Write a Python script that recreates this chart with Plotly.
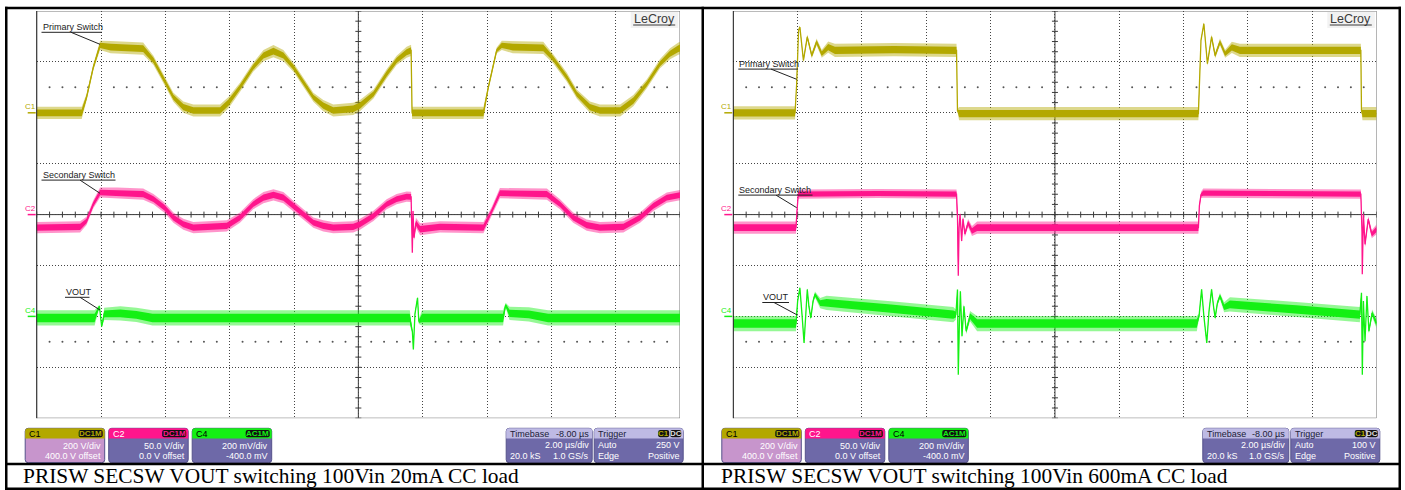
import numpy as np
import plotly.graph_objects as go

W, H = 1405, 490

# ---------------- channel settings (from the descriptor boxes) ----------------
C1_SCALE, C1_OFFSET = 200.0, 400.0      # V/div, V offset
C2_SCALE, C2_OFFSET = 50.0, 0.0         # V/div, V offset
C4_SCALE, C4_OFFSET = 200.0, -400.0     # mV/div, mV offset
T_MIN, T_MAX = -2.0, 18.0               # µs, 2 µs/div, trigger at t = 0

C1_COLOR = "#B3A800"
C2_COLOR = "#FF158C"
C4_COLOR = "#14F014"

# ---------------- 20 mA load capture ----------------
# t in µs, value in channel units, n = half height of the noise band
t_c1_a = [-2.00, -0.60, -0.45, -0.24, -0.03, 0.30, 1.31, 1.63, 1.97, 2.25, 2.56, 2.87, 3.70, 3.97,
          4.32, 4.73, 5.05, 5.36, 5.67, 5.98, 6.29, 6.60, 6.91, 7.22, 7.84, 8.05, 8.47, 8.88, 9.19,
          9.50, 9.64, 9.67, 11.89, 12.04, 12.30, 12.46, 12.80, 13.75, 14.06, 14.48, 14.79, 15.20,
          15.51, 16.14, 16.55, 16.97, 17.38, 17.69, 17.95, 18.00]
v_c1_a = [0, 0, 61, 179, 265, 258, 252, 206, 127, 61, 22, 9, 9, 41,
          100, 179, 225, 242, 225, 179, 120, 61, 28, 9, 15, 28, 74, 153, 206,
          238, 245, 0, 0, 100, 245, 265, 258, 255, 212, 140, 74, 22,
          9, 9, 48, 114, 193, 232, 252, 254]
n_c1_a = [24, 24, 14, 12, 18, 24, 24, 18, 18, 18, 22, 24, 24, 22,
          18, 18, 22, 24, 22, 18, 18, 18, 22, 24, 24, 22, 18, 18, 18,
          22, 22, 24, 24, 12, 12, 18, 24, 24, 18, 18, 18, 22,
          24, 24, 22, 18, 18, 22, 24, 24]

t_c2_a = [-2.00, -0.65, -0.45, -0.24, -0.03, 0.50, 1.31, 1.63, 1.97, 2.25, 2.56, 2.87, 3.91, 4.32,
          4.73, 5.05, 5.36, 5.67, 5.98, 6.29, 6.60, 6.91, 7.22, 7.84, 8.05, 8.47, 8.88, 9.19, 9.50,
          9.64, 9.668, 9.678, 9.70, 9.73, 9.79, 9.92, 10.54, 11.89, 12.15, 12.40, 13.86, 14.27, 14.68,
          15.10, 15.51, 16.24, 16.76, 17.17, 17.59, 18.00]
v_c2_a = [-12.8, -12.0, -6.2, 10.2, 21.7, 21.1, 20.1, 15.2, 6.9, -3.0, -9.5, -12.8, -11.1, -3.0,
          10.2, 16.7, 19.4, 16.7, 8.6, 0.4, -7.9, -11.1, -12.8, -12.1, -9.5, -1.3, 10.2, 15.2, 17.7,
          17.4, -12.8, -37.4, 3.6, -22.7, -8.2, -14.4, -12.1, -12.8, 3.6, 21.1, 20.1, 10.2, -3.0,
          -10.4, -12.8, -12.1, -3.0, 8.6, 16.7, 19.1]
n_c2_a = [5.5, 5.5, 4, 4, 5, 5.5, 5.5, 5, 5, 5, 5.5, 5.5, 5.5, 5,
          5, 5.5, 5.5, 5.5, 5, 5, 5, 5.5, 5.5, 5.5, 5.5, 5, 5, 5, 5,
          5, 1, 1, 2, 3, 5, 6, 5.5, 5.5, 4, 5, 5.5, 5, 5,
          5.5, 5.5, 5.5, 5, 5, 5, 5]

t_c4_a = [-2.00, -0.20, -0.05, 0.02, 0.10, 0.60, 1.10, 1.60, 9.60, 9.68, 9.71, 9.76, 9.84, 9.88,
          9.98, 12.50, 12.58, 12.70, 13.30, 13.90, 18.00]
v_c4_a = [-6, -6, 40, -39, 10, 12, 6, -6, -6, -60, -130, 10, 73, -20,
          -6, -6, 44, 12, 8, -6, -6]
n_c4_a = [30, 30, 6, 6, 24, 28, 28, 30, 30, 6, 4, 6, 4, 10,
          30, 30, 10, 26, 28, 30, 30]

# ---------------- 600 mA load capture ----------------
t_c1_b = [-2.00, -0.08, -0.03, 0.03, 0.07, 0.18, 0.30, 0.44, 0.59, 0.75, 0.95, 1.16, 3.00, 4.94,
          4.97, 5.02, 12.46, 12.49, 12.54, 12.63, 12.74, 12.87, 12.98, 13.13, 13.29, 13.50, 13.75,
          17.51, 17.53, 17.56, 18.00]
v_c1_b = [0, 0, 114, 324, 337, 206, 298, 225, 278, 232, 258, 245, 248, 245,
          9, -3, -3, 107, 285, 350, 193, 298, 225, 278, 232, 257, 245,
          245, 9, -3, -3]
n_c1_b = [26, 26, 4, 4, 6, 8, 10, 12, 14, 16, 22, 26, 26, 26,
          6, 26, 26, 4, 4, 6, 8, 10, 12, 14, 16, 22, 26,
          26, 6, 26, 26]

t_c2_b = [-2.00, -0.05, -0.02, 0.02, 2.50, 4.94, 4.97, 4.995, 5.02, 5.05, 5.10, 5.14, 5.20, 5.30,
          5.42, 5.58, 12.46, 12.49, 12.54, 12.61, 17.51, 17.545, 17.555, 17.59, 17.64, 17.74, 17.85, 18.00]
v_c2_b = [-12.8, -12.8, 3.6, 20.1, 20.7, 20.1, -1.3, -60.0, -12.8, 0.4, -25.9, -4.2, -19.0, -8.2,
          -16.1, -12.8, -12.8, 8.6, 19.4, 21.1, 20.1, -16.1, -58.7, 0.4, -29.2, -4.5, -19.3, -14.4]
n_c2_b = [6, 6, 2, 4.5, 4.5, 4.5, 1, 1, 1, 2, 2, 3, 3, 4,
          5, 6, 6, 2, 3, 4.5, 4.5, 1, 1, 2, 3, 3, 4, 5]

t_c4_b = [-2.00, -0.05, 0.00, 0.07, 0.14, 0.20, 0.26, 0.30, 0.35, 0.41, 0.48, 0.54, 0.70, 0.90,
          2.90, 4.84, 4.92, 4.97, 4.995, 5.03, 5.06, 5.11, 5.17, 5.24, 5.36, 5.58, 12.41, 12.48,
          12.56, 12.63, 12.72, 12.79, 12.87, 12.93, 12.98, 13.05, 13.13, 13.26, 13.44, 15.50, 17.48,
          17.53, 17.556, 17.59, 17.64, 17.70, 17.76, 17.86, 18.00]
v_c4_b = [-28, -28, 60, 112, 1, -104, 21, 106, 40, -6, 60, 86, 52, 53,
          30, 7, 7, 106, -229, -19, 99, -78, 40, -58, 1, -28, -28, 1,
          106, 1, -104, 21, 106, 40, -6, 52, 80, 36, 47, 27, 7,
          93, -229, 60, -98, 80, -58, 13, -28]
n_c4_b = [30, 30, 4, 4, 4, 4, 6, 6, 8, 8, 10, 12, 20, 28,
          30, 30, 20, 4, 4, 6, 6, 8, 10, 12, 20, 30, 30, 10,
          4, 4, 4, 6, 6, 8, 8, 10, 12, 20, 28, 30, 30,
          4, 4, 6, 6, 8, 10, 14, 20]

TRIGGER_LEVEL = [250.0, 100.0]   # V on C1
CAPTIONS = ["PRISW SECSW VOUT switching 100Vin 20mA CC load",
            "PRISW SECSW VOUT switching 100Vin 600mA CC load"]
CH_TEXT = [("C1", "DC1M", "200 V/div", "400.0 V offset"),
           ("C2", "DC1M", "50.0 V/div", "0.0 V offset"),
           ("C4", "AC1M", "200 mV/div", "-400.0 mV")]
TB_TEXT = ("Timebase", "-8.00 µs", "2.00 µs/div", "20.0 kS", "1.0 GS/s")
TRIG_MODE = ("Trigger", "Auto", "Edge", "Positive")

# ---------------- screen geometry (pixels) ----------------
GRID_LEFT = [36.7, 733.3]
GRID_W = 643.3
GRID_TOP, GRID_BOT = 11.0, 418.2
DIV_X = GRID_W / 10
DIV_Y = (GRID_BOT - GRID_TOP) / 8

SANS = "Liberation Sans, Arial, sans-serif"
SERIF = "Liberation Serif, Times New Roman, serif"

fig = go.Figure()


def px(x, y):
    return x / W, 1 - y / H


def rgba(hexcol, a):
    h = hexcol.lstrip("#")
    return f"rgba({int(h[0:2], 16)},{int(h[2:4], 16)},{int(h[4:6], 16)},{a})"


def to_div(v, off, sc):
    return (np.asarray(v, float) + off) / sc


def band(t, v, n, off, sc, color, p):
    xa, ya = ("x", "y") if p == 0 else ("x2", "y2")
    t = np.asarray(t, float)
    v = np.asarray(v, float)
    n = np.asarray(n, float)
    for k, a in ((1.0, 0.45), (0.55, 1.0)):
        up = to_div(v + k * n, off, sc)
        lo = to_div(v - k * n, off, sc)
        fig.add_trace(go.Scatter(
            x=np.concatenate([t, t[::-1]]), y=np.concatenate([up, lo[::-1]]),
            mode="lines", fill="toself", fillcolor=rgba(color, a),
            line=dict(width=0, color=rgba(color, a)),
            hoverinfo="skip", showlegend=False, xaxis=xa, yaxis=ya))
    fig.add_trace(go.Scatter(x=t, y=to_div(v, off, sc), mode="lines",
                             line=dict(color=color, width=1.3),
                             hoverinfo="skip", showlegend=False, xaxis=xa, yaxis=ya))


def text(x, y, s, size=9, color="#222", xanchor="left", family=SANS, yanchor="middle"):
    X, Y = px(x, y)
    fig.add_annotation(x=X, y=Y, xref="paper", yref="paper", text=s, showarrow=False,
                       xanchor=xanchor, yanchor=yanchor, borderpad=0,
                       font=dict(size=size, color=color, family=family))


def seg(x0, y0, x1, y1, color="#333", width=1):
    X0, Y0 = px(x0, y0)
    X1, Y1 = px(x1, y1)
    fig.add_shape(type="line", x0=X0, y0=Y0, x1=X1, y1=Y1, xref="paper", yref="paper",
                  line=dict(color=color, width=width), layer="above")


def rect(x0, y0, x1, y1, fill, line=None):
    X0, Y0 = px(x0, y0)
    X1, Y1 = px(x1, y1)
    fig.add_shape(type="rect", x0=X0, y0=Y0, x1=X1, y1=Y1, xref="paper", yref="paper",
                  fillcolor=fill, line=dict(width=1 if line else 0, color=line or fill),
                  layer="above")


def P(x, y):
    X, Y = px(x, y)
    return f"{X:.6f},{Y:.6f}"


def rrect(x0, y0, x1, y1, r, fill, line=None, top_only=False):
    if top_only:
        path = (f"M{P(x0, y1)} L{P(x0, y0 + r)} Q{P(x0, y0)} {P(x0 + r, y0)} "
                f"L{P(x1 - r, y0)} Q{P(x1, y0)} {P(x1, y0 + r)} L{P(x1, y1)} Z")
    else:
        path = (f"M{P(x0 + r, y0)} L{P(x1 - r, y0)} Q{P(x1, y0)} {P(x1, y0 + r)} "
                f"L{P(x1, y1 - r)} Q{P(x1, y1)} {P(x1 - r, y1)} L{P(x0 + r, y1)} "
                f"Q{P(x0, y1)} {P(x0, y1 - r)} L{P(x0, y0 + r)} Q{P(x0, y0)} {P(x0 + r, y0)} Z")
    fig.add_shape(type="path", path=path, xref="paper", yref="paper", fillcolor=fill,
                  line=dict(width=1 if line else 0, color=line or fill), layer="above")


# ---------------- axes (one graticule per capture) ----------------
for p, gl in enumerate(GRID_LEFT):
    sfx = "" if p == 0 else "2"
    xdom = [gl / W, (gl + GRID_W) / W]
    ydom = [1 - GRID_BOT / H, 1 - GRID_TOP / H]
    fig.update_layout(**{
        "xaxis" + sfx: dict(domain=xdom, range=[T_MIN, T_MAX], tick0=T_MIN, dtick=2,
                            showgrid=True, gridcolor="#444", gridwidth=1, griddash="1px,2px",
                            zeroline=False, showticklabels=False, ticks="", showline=False,
                            anchor="y" + sfx, fixedrange=True),
        "yaxis" + sfx: dict(domain=ydom, range=[-4, 4], tick0=-4, dtick=1,
                            showgrid=True, gridcolor="#444", gridwidth=1, griddash="1px,2px",
                            zeroline=False, showticklabels=False, ticks="", showline=False,
                            anchor="x" + sfx, fixedrange=True),
    })
    xa, ya = ("x", "y") if p == 0 else ("x2", "y2")
    tmid = (T_MIN + T_MAX) / 2
    # centre cross with minor ticks
    fig.add_shape(type="line", x0=tmid, x1=tmid, y0=-4, y1=4, xref=xa, yref=ya,
                  line=dict(color="#3a3a3a", width=1), layer="below")
    fig.add_shape(type="line", x0=T_MIN, x1=T_MAX, y0=0, y1=0, xref=xa, yref=ya,
                  line=dict(color="#3a3a3a", width=1), layer="below")
    hx = 3.0 * (T_MAX - T_MIN) / GRID_W
    hy = 3.0 * 8 / (GRID_BOT - GRID_TOP)
    tx, ty = [], []
    for tt in np.arange(T_MIN, T_MAX + 1e-6, 0.4):
        tx += [tt, tt, None]
        ty += [-hy, hy, None]
    for yy in np.arange(-4, 4 + 1e-6, 0.2):
        tx += [tmid - hx, tmid + hx, None]
        ty += [yy, yy, None]
    fig.add_trace(go.Scatter(x=tx, y=ty, mode="lines", line=dict(color="#3a3a3a", width=1),
                             hoverinfo="skip", showlegend=False, xaxis=xa, yaxis=ya))
    # sparse dot rows
    dx = [tt for tt in np.arange(T_MIN, T_MAX + 1e-6, 0.4) if abs((tt - T_MIN) / 2 - round((tt - T_MIN) / 2)) > 0.05]
    fig.add_trace(go.Scatter(x=dx + dx, y=[2.5] * len(dx) + [-2.5] * len(dx), mode="markers",
                             marker=dict(size=2, color="#555"), hoverinfo="skip",
                             showlegend=False, xaxis=xa, yaxis=ya))
    # graticule frame
    fig.add_shape(type="rect", x0=T_MIN, x1=T_MAX, y0=-4, y1=4, xref=xa, yref=ya,
                  line=dict(color="#777", width=1), layer="below")
    seg(gl, GRID_TOP, gl, GRID_BOT, "#222", 1)

# ---------------- waveforms ----------------
band(t_c1_a, v_c1_a, n_c1_a, C1_OFFSET, C1_SCALE, C1_COLOR, 0)
band(t_c2_a, v_c2_a, n_c2_a, C2_OFFSET, C2_SCALE, C2_COLOR, 0)
band(t_c4_a, v_c4_a, n_c4_a, C4_OFFSET, C4_SCALE, C4_COLOR, 0)
band(t_c1_b, v_c1_b, n_c1_b, C1_OFFSET, C1_SCALE, C1_COLOR, 1)
band(t_c2_b, v_c2_b, n_c2_b, C2_OFFSET, C2_SCALE, C2_COLOR, 1)
band(t_c4_b, v_c4_b, n_c4_b, C4_OFFSET, C4_SCALE, C4_COLOR, 1)

# ---------------- screen decorations ----------------
LABELS = [
    # (text, x, y, underline end, leader start x, leader end (x, y))
    [("Primary Switch", 41.5, 27.0, 102.0, 71.0, (100.0, 44.3)),
     ("Secondary Switch", 41.5, 174.8, 115.5, 80.0, (100.0, 193.3)),
     ("VOUT", 65.0, 292.0, 89.5, 80.0, (100.0, 310.0))],
    [("Primary Switch", 738.3, 63.8, 798.0, 771.0, (796.7, 79.3)),
     ("Secondary Switch", 738.3, 189.8, 812.5, 776.0, (796.7, 207.7)),
     ("VOUT", 762.3, 297.2, 789.0, 774.0, (797.3, 315.0))],
]

for p, gl in enumerate(GRID_LEFT):
    xa, ya = ("x", "y") if p == 0 else ("x2", "y2")
    for (s, x, y, xe, lx, (ex, ey)) in LABELS[p]:
        text(x, y, s, size=9, color="#1a1a1a")
        seg(x, y + 5.3, xe, y + 5.3, "#222", 1)
        seg(lx, y + 5.3, ex, ey, "#222", 1)

    # channel ground markers at the left edge
    for name, off, sc, col in (("C1", C1_OFFSET, C1_SCALE, C1_COLOR),
                               ("C2", C2_OFFSET, C2_SCALE, C2_COLOR),
                               ("C4", C4_OFFSET, C4_SCALE, C4_COLOR)):
        g = off / sc
        gy = GRID_TOP + (4 - g) * DIV_Y
        text(gl - 6.5, gy - 6, name, size=8, color=col, xanchor="center")
        seg(gl - 9, gy, gl - 1, gy, col, 1.5)

    # LeCroy badge
    rect(gl + 594, GRID_TOP + 1, gl + 641.5, GRID_TOP + 17, "#F2F2F2")
    text(gl + 617.5, GRID_TOP + 7.5, "LeCroy", size=12.5, color="#3a3a3a", xanchor="center")
    seg(gl + 596.5, GRID_TOP + 14, gl + 638.5, GRID_TOP + 14, "#3a3a3a", 1)

    # trigger level and trigger position markers
    trig_div = (TRIGGER_LEVEL[p] + C1_OFFSET) / C1_SCALE
    fig.add_trace(go.Scatter(x=[T_MAX + 4.0 * (T_MAX - T_MIN) / GRID_W], y=[trig_div],
                             mode="markers", marker=dict(symbol="triangle-left", size=7, color=C1_COLOR),
                             cliponaxis=False, hoverinfo="skip", showlegend=False, xaxis=xa, yaxis=ya))
    fig.add_trace(go.Scatter(x=[0.0], y=[-4 - 4.5 * 8 / (GRID_BOT - GRID_TOP)],
                             mode="markers", marker=dict(symbol="triangle-up", size=7, color=C1_COLOR),
                             cliponaxis=False, hoverinfo="skip", showlegend=False, xaxis=xa, yaxis=ya))

    # channel descriptor boxes
    by0, by1, bh = 428.3, 462.7, 438.5
    heads = [(C1_COLOR, "#000", "#C795CC"), (C2_COLOR, "#fff", "#6E69A8"), (C4_COLOR, "#000", "#6E69A8")]
    for i, ((name, cpl, l1, l2), (hc, htc, body)) in enumerate(zip(CH_TEXT, heads)):
        x0 = gl - 11.5 + i * 83.5
        x1 = x0 + 79.5
        rrect(x0, by0, x1, by1, 3, body, "#55528a")
        rrect(x0, by0, x1, bh, 3, hc, None, top_only=True)
        text(x0 + 3, (by0 + bh) / 2 + 0.5, name, size=9, color=htc)
        rrect(x1 - 26, by0 + 1.6, x1 - 2, bh - 1.3, 2, "#111")
        text(x1 - 14, (by0 + bh) / 2 + 0.5, f"<b>{cpl}</b>", size=8, color=hc, xanchor="center")
        text(x1 - 2.5, 445.5, l1, size=9, color="#fff", xanchor="right")
        text(x1 - 2.5, 456.0, l2, size=9, color="#fff", xanchor="right")

    # timebase box
    tx0, tx1 = gl + 469.5, gl + 555.5
    rrect(tx0, by0, tx1, by1, 3, "#6E69A8", "#55528a")
    rrect(tx0, by0, tx1, bh, 3, "#BEBAE4", None, top_only=True)
    text(tx0 + 3, 433.8, TB_TEXT[0], size=9, color="#1c1c38")
    text(tx1 - 2.5, 433.8, TB_TEXT[1], size=9, color="#1c1c38", xanchor="right")
    text(tx1 - 2.5, 445.3, TB_TEXT[2], size=9, color="#fff", xanchor="right")
    text(tx0 + 3, 456.0, TB_TEXT[3], size=9, color="#fff")
    text(tx1 - 2.5, 456.0, TB_TEXT[4], size=9, color="#fff", xanchor="right")

    # trigger box
    gx0, gx1 = gl + 557.5, gl + 646.5
    rrect(gx0, by0, gx1, by1, 3, "#6E69A8", "#55528a")
    rrect(gx0, by0, gx1, bh, 3, "#BEBAE4", None, top_only=True)
    text(gx0 + 3, 433.8, TRIG_MODE[0], size=9, color="#1c1c38")
    rrect(gx1 - 25, by0 + 1.6, gx1 - 14, bh - 1.3, 2, "#111")
    rrect(gx1 - 13, by0 + 1.6, gx1 - 2, bh - 1.3, 2, "#111")
    text(gx1 - 19.5, 433.8, "<b>C1</b>", size=8, color=C1_COLOR, xanchor="center")
    text(gx1 - 7.5, 433.8, "<b>DC</b>", size=8, color="#ddd", xanchor="center")
    text(gx0 + 3, 445.3, TRIG_MODE[1], size=9, color="#fff")
    text(gx1 - 2.5, 445.3, f"{TRIGGER_LEVEL[p]:.0f} V", size=9, color="#fff", xanchor="right")
    text(gx0 + 3, 456.0, TRIG_MODE[2], size=9, color="#fff")
    text(gx1 - 2.5, 456.0, TRIG_MODE[3], size=9, color="#fff", xanchor="right")

# ---------------- table frame and captions ----------------
rect(5.0, 6.7, 1401.0, 9.3, "#000")
rect(5.0, 6.7, 7.5, 490.0, "#000")
rect(1398.5, 6.7, 1401.0, 490.0, "#000")
rect(5.0, 487.5, 1401.0, 490.0, "#000")
rect(701.5, 6.7, 704.0, 490.0, "#000")
rect(5.0, 462.8, 1401.0, 465.2, "#000")
text(21.5, 476.3, CAPTIONS[0], size=21.4, color="#000", family=SERIF)
text(719.5, 476.3, CAPTIONS[1], size=21.4, color="#000", family=SERIF)

fig.update_layout(width=W, height=H, autosize=False, margin=dict(l=0, r=0, t=0, b=0),
                  paper_bgcolor="#fff", plot_bgcolor="#fff", showlegend=False)

fig.write_html("out.html")
